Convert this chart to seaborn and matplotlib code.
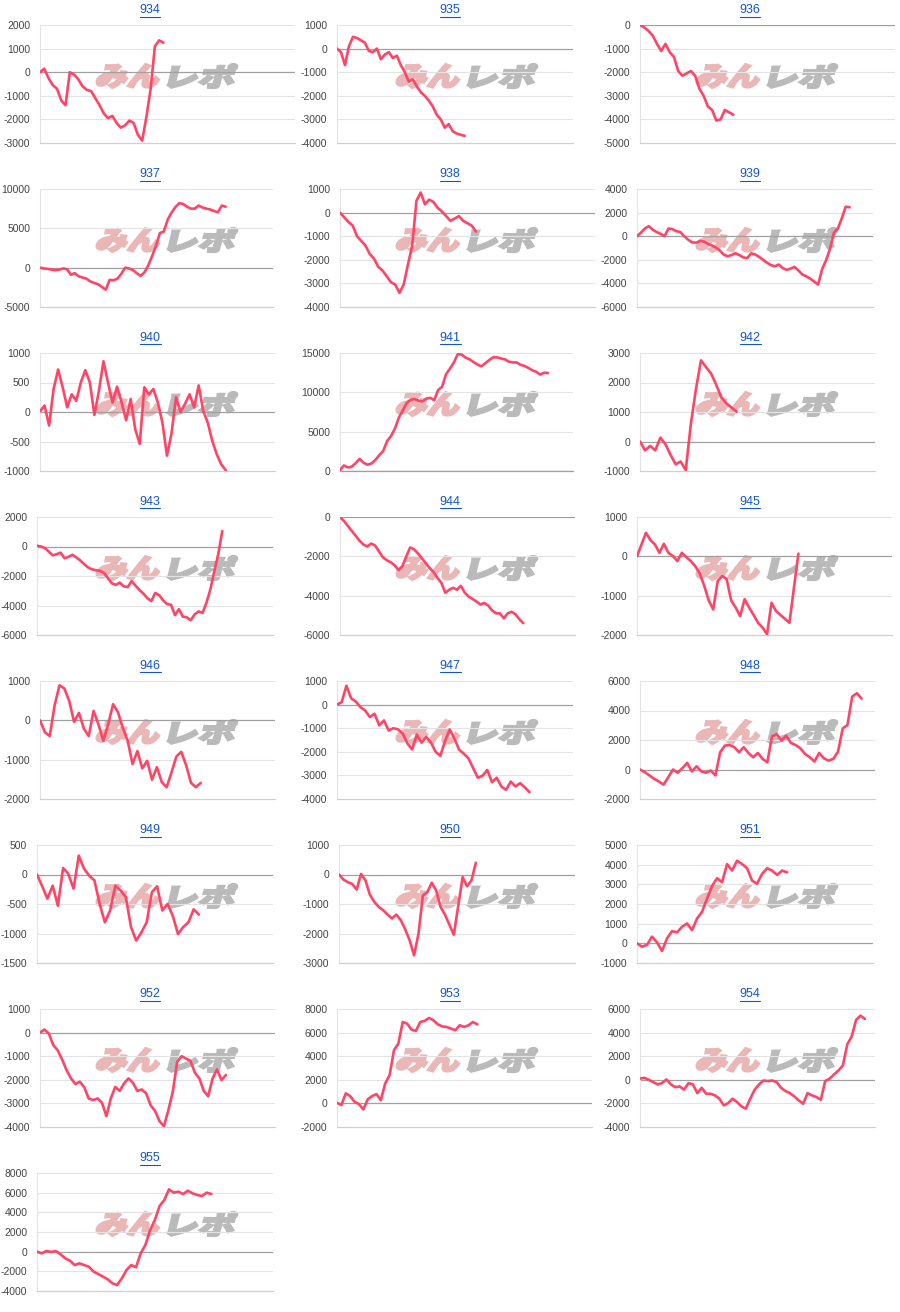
import numpy as np
import pandas as pd
import seaborn as sns
import matplotlib.pyplot as plt
import matplotlib.transforms as mtransforms
from matplotlib.textpath import TextPath
from matplotlib.patches import PathPatch
from matplotlib.font_manager import FontProperties
from matplotlib.lines import Line2D

# machine numbers, in reading order
machines = ['934', '935', '936', '937', '938', '939', '940', '941', '942', '943', '944',
            '945', '946', '947', '948', '949', '950', '951', '952', '953', '954', '955']

# balance series, one list per machine
p934 = [0, 150, -250, -550, -700, -1200, -1400, 0, -100, -300, -600, -750, -800, -1100, -1400,
        -1750, -1950, -1850, -2150, -2350, -2250, -2050, -2150, -2650, -2900, -1900, -700, 1100, 1350, 1250]
p935 = [0, -150, -700, 100, 500, 450, 350, 250, -100, -150, 0, -450, -250, -150, -400, -300, -700,
        -1000, -1400, -1300, -1600, -1850, -2000, -2200, -2450, -2800, -3000, -3350, -3200, -3500,
        -3600, -3650, -3700]
p936 = [0, -100, -250, -450, -800, -1100, -800, -1150, -1350, -1950, -2150, -2050, -1950, -2150,
        -2700, -3000, -3450, -3600, -4050, -4000, -3600, -3700, -3800]
p937 = [0, -100, -150, -250, -300, -250, -100, -200, -900, -700, -1100, -1250, -1400, -1750, -1950,
        -2100, -2450, -2800, -1550, -1600, -1400, -800, 0, -100, -300, -700, -1050, -600, 300, 1500,
        2800, 4400, 4600, 6100, 7000, 7700, 8200, 8100, 7750, 7500, 7500, 7900, 7650, 7500, 7400,
        7200, 7050, 7900, 7750]
p938 = [0, -200, -400, -550, -1000, -1200, -1400, -1750, -1950, -2300, -2450, -2700, -2950, -3050,
        -3400, -3050, -2200, -1400, 500, 850, 350, 550, 450, 200, 50, -150, -350, -250, -150, -350,
        -450, -550, -800]
p939 = [0, 300, 650, 850, 550, 350, 200, 0, 650, 600, 420, 350, 0, -300, -520, -550, -400, -450,
        -650, -780, -950, -1200, -1550, -1700, -1600, -1450, -1600, -1800, -1850, -1450, -1550, -1750,
        -2000, -2250, -2450, -2550, -2400, -2700, -2850, -2750, -2600, -2900, -3250, -3400, -3600,
        -3850, -4100, -2800, -2050, -1100, 300, 650, 1500, 2500, 2450]
p940 = [10, 110, -230, 390, 720, 420, 80, 300, 190, 500, 710, 500, -50, 360, 860, 500, 160, 430, 160,
        -140, 220, -290, -540, 420, 300, 390, 160, -180, -740, -370, 250, 0, 140, 300, 80, 450, 20,
        -180, -490, -720, -890, -990]
p941 = [100, 700, 450, 550, 1000, 1550, 1050, 800, 950, 1400, 2000, 2550, 3800, 4450, 5400, 6800,
        7700, 8650, 9050, 9150, 8950, 8850, 9200, 9300, 9000, 10300, 10700, 12300, 13000, 13800,
        14850, 14800, 14400, 14200, 13850, 13550, 13300, 13700, 14100, 14450, 14450, 14300, 14200,
        13900, 13800, 13800, 13500, 13350, 13100, 12800, 12600, 12250, 12500, 12450]
p942 = [0, -300, -150, -300, 130, -90, -450, -770, -680, -970, 590, 1770, 2750, 2520, 2300, 1920,
        1500, 1290, 1150, 1010]
p943 = [50, 0, -100, -350, -600, -520, -420, -800, -700, -560, -750, -950, -1200, -1430, -1550,
        -1610, -1650, -1800, -2150, -2500, -2600, -2450, -2700, -2750, -2350, -2650, -2950, -3200,
        -3500, -3700, -3150, -3300, -3650, -3900, -3950, -4650, -4250, -4750, -4800, -5000, -4600,
        -4400, -4500, -3800, -2900, -1650, -500, 1050]
p944 = [0, -200, -450, -700, -950, -1200, -1400, -1500, -1350, -1450, -1750, -2050, -2200, -2300,
        -2450, -2700, -2500, -2000, -1550, -1650, -1850, -2100, -2350, -2600, -2800, -3100, -3350,
        -3850, -3700, -3600, -3700, -3500, -3850, -4050, -4170, -4300, -4450, -4370, -4500, -4750,
        -4900, -4900, -5150, -4900, -4820, -4950, -5200, -5400]
p945 = [0, 300, 600, 410, 300, 90, 320, 90, 10, -120, 90, -20, -120, -250, -440, -750, -1120, -1350,
        -630, -500, -580, -1120, -1300, -1520, -1090, -1300, -1490, -1690, -1810, -1980, -1180, -1390,
        -1490, -1590, -1690, -800, 70]
p946 = [0, -300, -400, 380, 890, 810, 490, -40, 190, -210, -400, 240, -100, -520, -100, 410, 210,
        -190, -520, -1110, -780, -1220, -1030, -1510, -1190, -1570, -1700, -1320, -920, -800, -1140,
        -1590, -1700, -1590]
p947 = [0, 100, 800, 270, 130, -110, -250, -530, -390, -880, -670, -1100, -1000, -1050, -1230, -1650,
        -1900, -1270, -1610, -1370, -1610, -2000, -2170, -1550, -1050, -1440, -1910, -2080, -2280,
        -2700, -3100, -3010, -2770, -3290, -3100, -3470, -3610, -3260, -3470, -3330, -3510, -3710]
p948 = [0, -180, -400, -630, -810, -1030, -520, 0, -220, 90, 450, -130, 220, -130, -220, -70, -400,
        1170, 1620, 1660, 1510, 1170, 1510, 1120, 830, 1120, 720, 490, 2250, 2400, 1960, 2290, 1800,
        1660, 1440, 1060, 830, 540, 1120, 760, 600, 720, 1210, 2790, 3010, 4940, 5170, 4810]
p949 = [0, -200, -410, -190, -530, 110, 10, -240, 320, 100, -20, -100, -500, -810, -610, -190, -270,
        -380, -890, -1120, -980, -810, -300, -200, -610, -500, -700, -1010, -890, -810, -590, -680]
p950 = [0, -170, -260, -320, -510, 20, -200, -690, -930, -1100, -1210, -1360, -1490, -1360, -1550,
        -1860, -2230, -2740, -2010, -710, -600, -280, -540, -1100, -1360, -1700, -2040, -1070, -90,
        -400, -200, 400]
p951 = [0, -170, -80, 340, 50, -390, 250, 620, 560, 840, 1010, 670, 1260, 1600, 2270, 2910, 3310,
        3110, 4030, 3700, 4200, 4030, 3820, 3190, 3030, 3530, 3820, 3700, 3480, 3700, 3610]
p952 = [0, 130, -40, -530, -750, -1140, -1590, -1940, -2180, -2080, -2320, -2790, -2860, -2790, -2970,
        -3540, -2790, -2300, -2470, -2150, -1940, -2130, -2470, -2410, -2580, -3080, -3320, -3750,
        -3970, -3290, -2510, -1240, -1000, -1100, -1200, -1700, -1940, -2470, -2700, -1940, -1560,
        -2010, -1800]
p953 = [50, -140, 850, 620, 140, -60, -510, 340, 620, 790, 280, 1690, 2390, 4510, 5070, 6900, 6760,
        6250, 6140, 6900, 6990, 7240, 7040, 6700, 6530, 6480, 6340, 6200, 6620, 6480, 6620, 6900, 6700]
p954 = [100, 170, 0, -200, -390, -280, 30, -390, -620, -560, -840, -280, -390, -1130, -680, -1180,
        -1180, -1320, -1600, -2170, -1970, -1600, -1890, -2250, -2450, -1600, -840, -390, -60, -110,
        -60, -200, -680, -960, -1130, -1410, -1750, -2030, -1130, -1320, -1460, -1690, -110, 100, 450,
        790, 1210, 3000, 3660, 5070, 5440, 5160]
p955 = [0, -170, 70, -30, 70, -270, -680, -920, -1360, -1190, -1360, -1530, -2030, -2270, -2540, -2810,
        -3220, -3390, -2710, -1860, -1360, -1590, -170, 680, 2200, 3220, 4640, 5250, 6340, 6000, 6100,
        5860, 6200, 5930, 5760, 5660, 6000, 5860]

series = {'934': p934, '935': p935, '936': p936, '937': p937, '938': p938, '939': p939,
          '940': p940, '941': p941, '942': p942, '943': p943, '944': p944, '945': p945,
          '946': p946, '947': p947, '948': p948, '949': p949, '950': p950, '951': p951,
          '952': p952, '953': p953, '954': p954, '955': p955}

# y axis: (min, max, step)
y_axes = {'934': (-3000, 2000, 1000), '935': (-4000, 1000, 1000), '936': (-5000, 0, 1000),
          '937': (-5000, 10000, 5000), '938': (-4000, 1000, 1000), '939': (-6000, 4000, 2000),
          '940': (-1000, 1000, 500), '941': (0, 15000, 5000), '942': (-1000, 3000, 1000),
          '943': (-6000, 2000, 2000), '944': (-6000, 0, 2000), '945': (-2000, 1000, 1000),
          '946': (-2000, 1000, 1000), '947': (-4000, 1000, 1000), '948': (-2000, 6000, 2000),
          '949': (-1500, 500, 500), '950': (-3000, 1000, 1000), '951': (-1000, 5000, 1000),
          '952': (-4000, 1000, 1000), '953': (-2000, 8000, 2000), '954': (-4000, 6000, 2000),
          '955': (-4000, 8000, 2000)}

# layout: plot left / right edge inside each 300px column, and how far along the line runs
plot_box = {'934': (40, 295, 0.484), '935': (37, 273, 0.541), '936': (40, 295, 0.366),
            '937': (40, 273, 0.797), '938': (40, 295, 0.533), '939': (37, 273, 0.901),
            '940': (40, 275, 0.791), '941': (40, 273, 0.893), '942': (40, 275, 0.411),
            '943': (37, 273, 0.785), '944': (40, 275, 0.780), '945': (37, 292, 0.633),
            '946': (40, 275, 0.684), '947': (37, 273, 0.816), '948': (40, 275, 0.943),
            '949': (37, 273, 0.686), '950': (39, 275, 0.580), '951': (37, 273, 0.636),
            '952': (40, 275, 0.791), '953': (37, 292, 0.550), '954': (40, 275, 0.957),
            '955': (37, 273, 0.739)}

FIG_W, FIG_H = 900, 1312
ROW_H = 164
LINE_COLOR = '#ff4466'
TITLE_COLOR = '#1155cc'
WM_FONT = FontProperties(family='Noto Sans CJK JP', weight='black')


def add_watermark(fig, col, row):
    shear = np.tan(np.radians(14))
    for text, color, x0, x1 in (('みん', '#eab6b6', 95, 163), ('レポ', '#bababa', 167, 238)):
        tp = TextPath((0, 0), text, size=1, prop=WM_FONT)
        bb = tp.get_extents()
        h = 24
        sx = ((x1 - x0) - shear * h) / bb.width
        sy = h / bb.height
        px = 300 * col + x0
        py = FIG_H - (ROW_H * row + 88)
        tr = (mtransforms.Affine2D().translate(-bb.x0, -bb.y0).scale(sx, sy).skew_deg(14, 0)
              .translate(px, py)
              + mtransforms.Affine2D().scale(1 / FIG_W, 1 / FIG_H) + fig.transFigure)
        fig.add_artist(PathPatch(tp, transform=tr, facecolor=color, edgecolor=color,
                                 linewidth=1.6, zorder=-1))


def main():
    sns.set_theme(style='white')
    plt.rcParams['font.family'] = ['Liberation Sans', 'DejaVu Sans']

    fig = plt.figure(figsize=(FIG_W / 100, FIG_H / 100), dpi=100)
    titles = []

    for i, name in enumerate(machines):
        row, col = divmod(i, 3)
        left, right, frac = plot_box[name]
        lo, hi, step = y_axes[name]
        vals = series[name]
        df = pd.DataFrame({'x': np.arange(len(vals)), 'y': vals})

        top = ROW_H * row + 25
        bottom = ROW_H * row + 143
        ax = fig.add_axes([(300 * col + left) / FIG_W, 1 - bottom / FIG_H,
                           (right - left) / FIG_W, (bottom - top) / FIG_H])
        ax.set_facecolor('none')

        ticks = np.arange(lo, hi + step, step)
        for t in ticks:
            if t == 0:
                ax.axhline(0, color='#a0a0a0', lw=0.9, zorder=1)
            elif t != lo:
                ax.axhline(t, color='#e3e3e3', lw=0.8, zorder=0)

        sns.lineplot(data=df, x='x', y='y', ax=ax, color=LINE_COLOR, linewidth=1.9, zorder=3)

        ax.set_xlim(0, (len(vals) - 1) / frac)
        ax.set_ylim(lo, hi)
        ax.set_yticks(ticks)
        ax.set_yticklabels([str(int(t)) for t in ticks])
        ax.set_xticks([])
        ax.set_xlabel('')
        ax.set_ylabel('')
        ax.tick_params(axis='y', length=0, pad=7, labelsize=7.5, labelcolor='#444444')
        for side in ('top', 'right'):
            ax.spines[side].set_visible(False)
        ax.spines['left'].set_color('#e3e3e3')
        ax.spines['left'].set_linewidth(0.8)
        ax.spines['bottom'].set_color('#a0a0a0' if lo == 0 else '#d0d0d0')
        ax.spines['bottom'].set_linewidth(0.9)

        t = fig.text((300 * col + 150) / FIG_W, 1 - (ROW_H * row + 10) / FIG_H, name,
                     ha='center', va='center', fontsize=9, color=TITLE_COLOR)
        titles.append(t)
        add_watermark(fig, col, row)

    # underline the titles like links
    fig.canvas.draw()
    inv = fig.transFigure.inverted()
    for t in titles:
        bb = t.get_window_extent()
        (x0, y0), (x1, _) = inv.transform([(bb.x0, bb.y0 - 0.5), (bb.x1, bb.y0)])
        fig.add_artist(Line2D([x0, x1], [y0, y0], transform=fig.transFigure,
                              color=TITLE_COLOR, lw=0.8))

    fig.savefig('out.png', dpi=100)


if __name__ == '__main__':
    main()
